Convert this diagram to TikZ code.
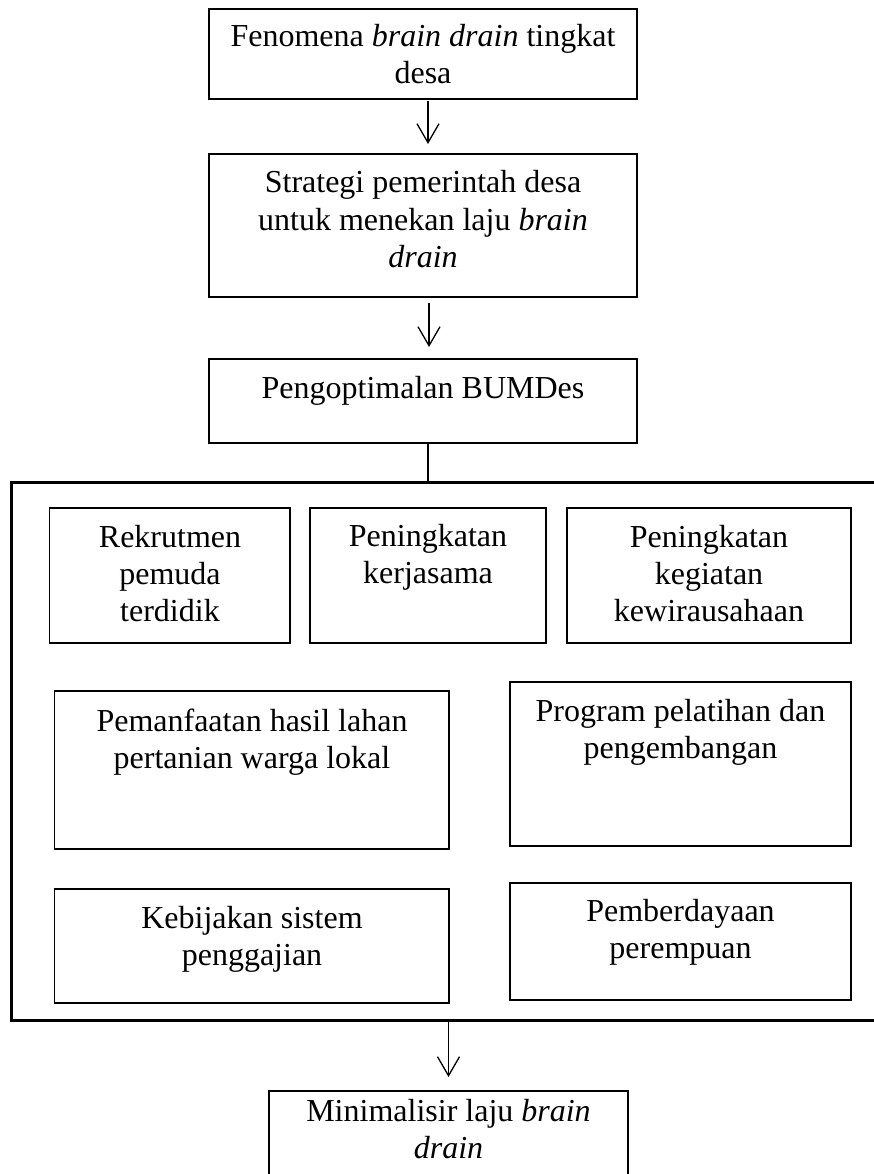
\documentclass[tikz,border=0pt]{standalone}
\usepackage{fontspec}
\setmainfont{Liberation Serif}
\usetikzlibrary{arrows.meta}
\tikzset{
  box/.style={draw=black, line width=1.1pt, inner sep=0pt, outer sep=0pt, rectangle},
  grpbox/.style={draw=black, line width=3pt, inner sep=0pt, outer sep=0pt, rectangle},
  txt/.style={align=center, inner sep=0pt, anchor=base, font=\fontsize{32}{37}\selectfont},
  arr/.style={line width=1.3pt, -{Straight Barb[length=19pt,width=22pt,line width=1.3pt]}},
  conn/.style={line width=1.3pt}
}
\begin{document}
\begin{tikzpicture}[x=1pt,y=-1pt]
\useasboundingbox (0,0) rectangle (873,1174);
% boxes
\node[box, minimum width=428pt, minimum height=90pt] (b1) at (423,54) {};
\node[box, minimum width=428pt, minimum height=143pt] (b2) at (423,225.5) {};
\node[box, minimum width=428pt, minimum height=84pt] (b3) at (423,401) {};
\node[grpbox, minimum width=869pt, minimum height=538pt] (grp) at (445.5,751) {};
\node[box, minimum width=240.4pt, minimum height=135pt] (r1a) at (169.8,575.5) {};
\node[box, minimum width=236pt, minimum height=135pt] (r1b) at (428,575.5) {};
\node[box, minimum width=284pt, minimum height=135pt] (r1c) at (709,575.5) {};
\node[box, minimum width=394.4pt, minimum height=158pt] (r2a) at (251.8,770) {};
\node[box, minimum width=341pt, minimum height=164pt] (r2b) at (680.5,764) {};
\node[box, minimum width=394.4pt, minimum height=114pt] (r3a) at (251.8,946) {};
\node[box, minimum width=341pt, minimum height=117pt] (r3b) at (680.5,941.5) {};
\node[box, minimum width=359pt, minimum height=99pt] (bot) at (448.5,1140.5) {};
% texts (anchor = baseline of last line)
\node[txt] (t1) at (423,84) {Fenomena \textit{brain drain} tingkat\\desa};
\node[txt] (t2) at (423,267) {Strategi pemerintah desa\\untuk menekan laju \textit{brain}\\\textit{drain}};
\node[txt] (t3) at (423,398) {Pengoptimalan BUMDes};
\node[txt] (t4) at (170,621) {Rekrutmen\\pemuda\\terdidik};
\node[txt] (t5) at (428,583) {Peningkatan\\kerjasama};
\node[txt] (t6) at (709,621) {Peningkatan\\kegiatan\\kewirausahaan};
\node[txt] (t7) at (252,768) {Pemanfaatan hasil lahan\\pertanian warga lokal};
\node[txt] (t8) at (680.5,758) {Program pelatihan dan\\pengembangan};
\node[txt] (t9) at (252,965) {Kebijakan sistem\\penggajian};
\node[txt] (t10) at (680.5,958) {Pemberdayaan\\perempuan};
\node[txt] (t11) at (448.5,1158) {Minimalisir laju \textit{brain}\\\textit{drain}};
% connectors
\draw[arr] ([xshift=5pt,yshift=-2pt]b1.south) -- ([xshift=5pt,yshift=10pt]b2.north);
\draw[arr] ([xshift=6pt,yshift=-6pt]b2.south) -- ([xshift=6pt,yshift=12pt]b3.north);
\draw[conn] ([xshift=5pt]b3.south) -- ([xshift=5pt]b3.south |- grp.north);
\draw[arr] (grp.south -| bot.north) -- ([yshift=14pt]bot.north);
\end{tikzpicture}
\end{document}
